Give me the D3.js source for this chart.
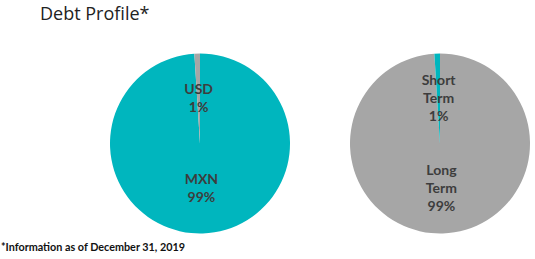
<!DOCTYPE html>
<html>
<head>
<meta charset="utf-8">
<script src="https://cdn.jsdelivr.net/npm/d3@7"></script>
<style>
  body { margin: 0; background: #fff; }
  svg { display: block; }
</style>
</head>
<body>
<svg id="chart" width="535" height="259"></svg>
<script>
// Currency split
const currencyLabels = ['MXN', 'USD'];
const currencyValues = [99, 1];
// Maturity split
const termLabels = [['Long', 'Term'], ['Short', 'Term']];
const termValues = [99, 1];

const TEAL = '#00b6be';
const GRAY = '#a6a6a6';
const TEXT = '#3d3d3d';
const FONT = 'Lato, "Open Sans", sans-serif';

const svg = d3.select('#chart');

svg.append('text')
  .attr('x', 40)
  .attr('y', 20)
  .attr('fill', '#222')
  .attr('font-family', '"Open Sans", sans-serif')
  .attr('font-size', '18px')
  .text('Debt Profile*');

svg.append('text')
  .attr('x', 1)
  .attr('y', 251)
  .attr('fill', '#111')
  .attr('font-family', FONT)
  .attr('font-weight', 'bold')
  .attr('font-size', '10.8px')
  .text('*Information as of December 31, 2019');

const radius = 90;
const pie = d3.pie().sort(null).value(d => d.value);
const arc = d3.arc().innerRadius(0).outerRadius(radius);

function drawPie(cx, cy, labels, values, colors) {
  const data = values.map((v, i) => ({
    label: Array.isArray(labels[i]) ? labels[i] : [labels[i]],
    value: v,
    color: colors[i]
  }));
  const g = svg.append('g').attr('transform', `translate(${cx},${cy})`);
  const arcs = pie(data);

  g.selectAll('path.slice')
    .data(arcs)
    .join('path')
    .attr('class', 'slice')
    .attr('d', arc)
    .attr('fill', d => d.data.color);

  const lineH = 18;
  g.selectAll('text.lbl')
    .data(arcs)
    .join('text')
    .attr('class', 'lbl')
    .attr('text-anchor', 'middle')
    .attr('fill', TEXT)
    .attr('font-family', FONT)
    .attr('font-weight', 'bold')
    .attr('font-size', '14px')
    .each(function(d) {
      const [x, y] = arc.centroid(d);
      const lines = d.data.label.concat([d.data.value + '%']);
      const top = y - (lines.length - 1) * lineH / 2;
      d3.select(this).selectAll('tspan')
        .data(lines)
        .join('tspan')
        .attr('x', x)
        .attr('y', (t, i) => top + i * lineH)
        .attr('dy', '0.35em')
        .text(t => t);
    });
}

drawPie(200, 143.5, currencyLabels, currencyValues, [TEAL, GRAY]);
drawPie(440, 143.5, termLabels, termValues, [GRAY, TEAL]);
</script>
</body>
</html>
